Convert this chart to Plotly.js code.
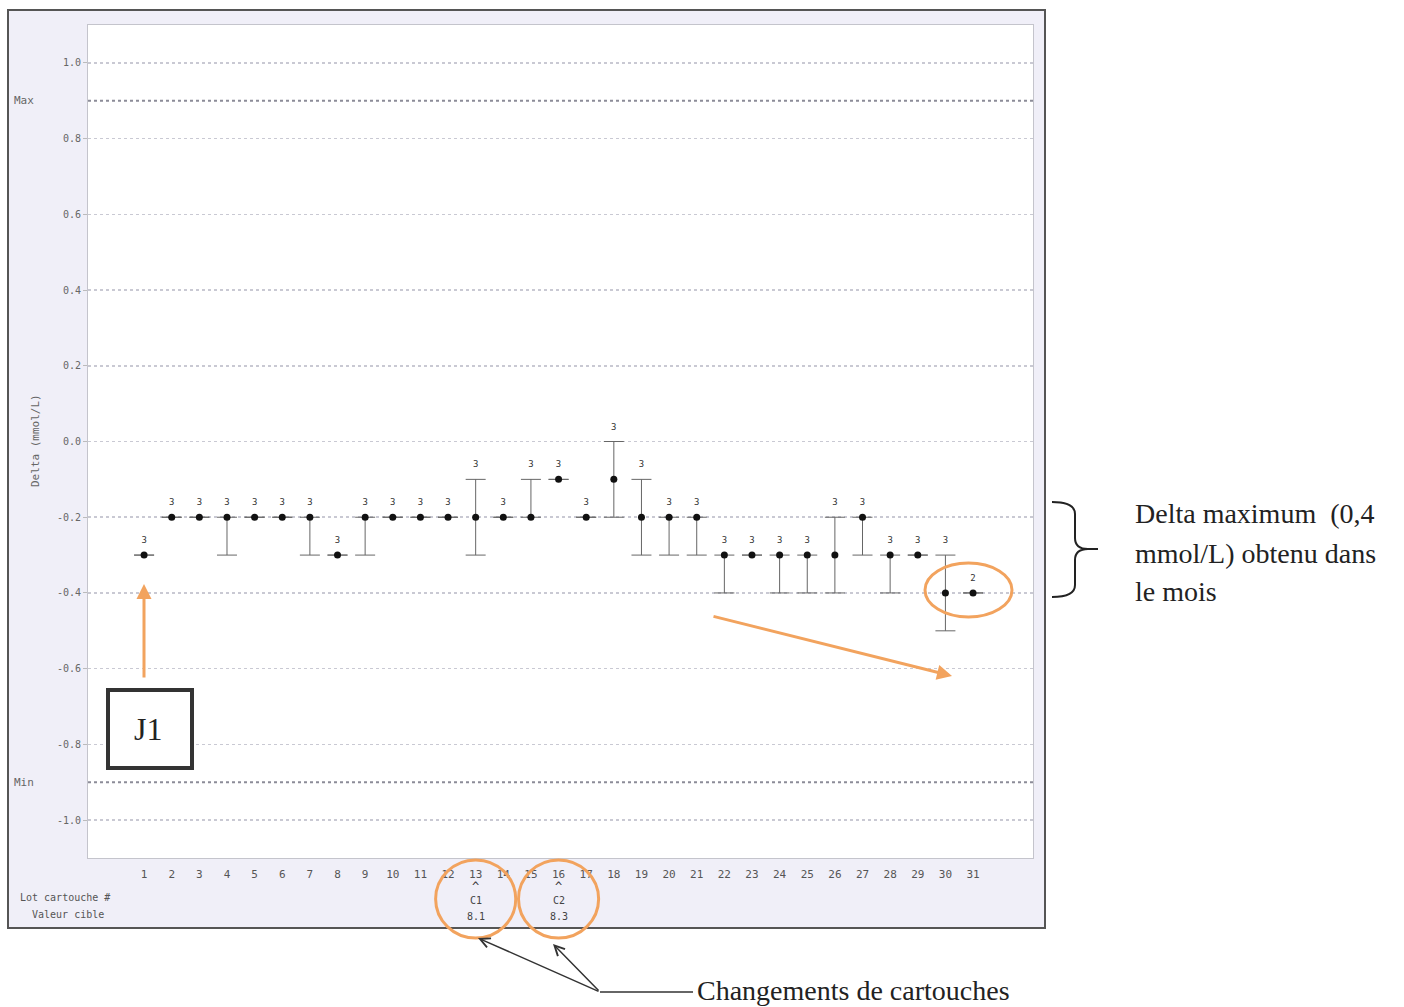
<!DOCTYPE html>
<html>
<head>
<meta charset="utf-8">
<script src="https://cdn.plot.ly/plotly-3.0.1.min.js"></script>
<style>html,body{margin:0;padding:0;background:#fff;}#chart{width:1404px;height:1007px;}</style>
</head>
<body>
<div id="chart"></div>
<script>
// ---- data ----
const days = [1,2,3,4,5,6,7,8,9,10,11,12,13,14,15,16,17,18,19,20,21,22,23,24,25,26,27,28,29,30,31];
const deltas = [-0.3,-0.2,-0.2,-0.2,-0.2,-0.2,-0.2,-0.3,-0.2,-0.2,-0.2,-0.2,-0.2,-0.2,-0.2,-0.1,-0.2,-0.1,-0.2,-0.2,-0.2,-0.3,-0.3,-0.3,-0.3,-0.3,-0.2,-0.3,-0.3,-0.4,-0.4];
const errPlus = [0,0,0,0,0,0,0,0,0,0,0,0,0.1,0,0.1,0,0,0.1,0.1,0,0,0,0,0,0,0.1,0,0,0,0.1,0];
const errMinus = [0,0,0,0.1,0,0,0.1,0,0.1,0,0,0,0.1,0,0,0,0,0.1,0.1,0.1,0.1,0.1,0,0.1,0.1,0.1,0.1,0.1,0,0.1,0];
const counts = ['3','3','3','3','3','3','3','3','3','3','3','3','3','3','3','3','3','3','3','3','3','3','3','3','3','3','3','3','3','3','2'];
const yTicks = [1.0,0.8,0.6,0.4,0.2,0.0,-0.2,-0.4,-0.6,-0.8,-1.0];
const limitValues = [0.9, -0.9];
const limitLabels = ['Max', 'Min'];
const cartridgeDays = [13, 16];
const cartridgeLots = ['C1', 'C2'];
const cartridgeTargets = ['8.1', '8.3'];

// ---- pixel helpers for decorations (plot area 88..1033 x 25..858) ----
const L = 88, R = 1033, T = 25, B = 858;
const px = x => (x - L) / (R - L);
const py = y => (B - y) / (B - T);

const orange = '#f2a35e';
const chartFont = 'DejaVu Sans Mono, monospace';
const serif = 'Liberation Serif, Times New Roman, serif';

const traces = [
  {
    type: 'scatter', mode: 'markers',
    x: days, y: deltas,
    marker: {color: '#111', size: 7},
    error_y: {type: 'data', symmetric: false, array: errPlus, arrayminus: errMinus,
              color: '#666', thickness: 1, width: 10},
    hoverinfo: 'x+y', showlegend: false
  },
  {
    type: 'scatter', mode: 'markers+text',
    x: days, y: deltas.map((v, i) => v + errPlus[i]),
    text: counts, textposition: 'top center',
    marker: {size: 14, opacity: 0},
    textfont: {family: chartFont, size: 9, color: '#333'},
    hoverinfo: 'skip', showlegend: false
  }
];

const shapes = [
  // outer panel
  {type: 'rect', xref: 'paper', yref: 'paper', layer: 'below',
   x0: px(8), x1: px(1045), y0: py(928), y1: py(10),
   fillcolor: '#f0eff8', line: {color: '#555', width: 2}},
  {type: 'rect', xref: 'paper', yref: 'paper', layer: 'below',
   x0: 0, x1: 1, y0: 0, y1: 1, fillcolor: '#ffffff', line: {width: 0}},
  // J1 box
  {type: 'rect', xref: 'paper', yref: 'paper',
   x0: px(108), x1: px(192), y0: py(768), y1: py(690),
   fillcolor: '#ffffff', line: {color: '#333', width: 4}},
  // orange ellipse around last points
  {type: 'circle', xref: 'paper', yref: 'paper',
   x0: px(925), x1: px(1012), y0: py(617), y1: py(563),
   line: {color: orange, width: 3}},
  // brace
  {type: 'path', xref: 'paper', yref: 'paper',
   path: 'M' + px(1052) + ',' + py(502) + ' Q' + px(1075) + ',' + py(502) + ' ' + px(1075) + ',' + py(514) +
         ' L' + px(1075) + ',' + py(538) + ' Q' + px(1075) + ',' + py(549) + ' ' + px(1088) + ',' + py(549) +
         ' L' + px(1098) + ',' + py(549) + ' M' + px(1088) + ',' + py(549) +
         ' Q' + px(1075) + ',' + py(549) + ' ' + px(1075) + ',' + py(560) +
         ' L' + px(1075) + ',' + py(585) + ' Q' + px(1075) + ',' + py(597) + ' ' + px(1052) + ',' + py(597),
   line: {color: '#222', width: 2}},
  // connector line for "Changements de cartouches"
  {type: 'line', xref: 'paper', yref: 'paper',
   x0: px(600), x1: px(693), y0: py(992), y1: py(992), line: {color: '#333', width: 1.5}}
];

// limit lines
limitValues.forEach(v => shapes.push({
  type: 'line', xref: 'paper', yref: 'y', x0: 0, x1: 1, y0: v, y1: v,
  line: {color: '#8c8c98', width: 2, dash: 'dot'}
}));
// orange circles around cartridge changes
cartridgeDays.forEach(d => shapes.push({
  type: 'circle', xref: 'x', yref: 'paper',
  x0: d - 1.45, x1: d + 1.45, y0: py(938), y1: py(860),
  line: {color: orange, width: 3}
}));

const ann = (o) => Object.assign({xanchor: 'center', yanchor: 'middle', showarrow: false}, o);

const annotations = [
  ann({xref: 'paper', yref: 'paper', x: px(35), y: py(441), text: 'Delta (mmol/L)', textangle: -90,
   font: {family: chartFont, size: 11, color: '#666'}}),
  ann({xref: 'paper', yref: 'paper', x: px(18), y: py(897), xanchor: 'left', text: 'Lot cartouche #',
   font: {family: chartFont, size: 10, color: '#555'}}),
  ann({xref: 'paper', yref: 'paper', x: px(30), y: py(914), xanchor: 'left', text: 'Valeur cible',
   font: {family: chartFont, size: 10, color: '#555'}}),
  ann({xref: 'paper', yref: 'paper', x: px(148), y: py(729), text: 'J1',
   font: {family: serif, size: 32, color: '#222'}}),
  // J1 arrow
  ann({xref: 'paper', yref: 'paper', x: px(144), y: py(584), ax: 0, ay: 95, text: '',
   showarrow: true, arrowhead: 2, arrowsize: 1, arrowwidth: 3, arrowcolor: orange}),
  // long orange arrow
  ann({xref: 'paper', yref: 'paper', x: px(952), y: py(676), ax: -240, ay: -60, text: '',
   showarrow: true, arrowhead: 2, arrowsize: 1, arrowwidth: 3, arrowcolor: orange}),
  // black arrows to cartridge circles
  ann({xref: 'paper', yref: 'paper', x: px(478), y: py(938), ax: 122, ay: 54, text: '',
   showarrow: true, arrowhead: 5, arrowsize: 1.3, arrowwidth: 1.5, arrowcolor: '#333'}),
  ann({xref: 'paper', yref: 'paper', x: px(553), y: py(944), ax: 47, ay: 48, text: '',
   showarrow: true, arrowhead: 5, arrowsize: 1.3, arrowwidth: 1.5, arrowcolor: '#333'}),
  ann({xref: 'paper', yref: 'paper', x: px(695), y: py(990), xanchor: 'left',
   text: 'Changements de cartouches', font: {family: serif, size: 28, color: '#222'}}),
  // right-side note
  ann({xref: 'paper', yref: 'paper', x: px(1133), y: py(513), xanchor: 'left',
   text: 'Delta maximum  (0,4', font: {family: serif, size: 28, color: '#222'}}),
  ann({xref: 'paper', yref: 'paper', x: px(1133), y: py(553), xanchor: 'left',
   text: 'mmol/L) obtenu dans', font: {family: serif, size: 28, color: '#222'}}),
  ann({xref: 'paper', yref: 'paper', x: px(1133), y: py(591), xanchor: 'left',
   text: 'le mois', font: {family: serif, size: 28, color: '#222'}})
];

limitValues.forEach((v, i) => annotations.push(ann({
  xref: 'paper', yref: 'y', x: px(12), y: v, xanchor: 'left',
  text: limitLabels[i], font: {family: chartFont, size: 11, color: '#666'}
})));
cartridgeDays.forEach((d, i) => {
  annotations.push(ann({xref: 'x', yref: 'paper', x: d, y: py(887), text: '^',
    font: {family: chartFont, size: 12, color: '#333'}}));
  annotations.push(ann({xref: 'x', yref: 'paper', x: d, y: py(900), text: cartridgeLots[i],
    font: {family: chartFont, size: 10, color: '#444'}}));
  annotations.push(ann({xref: 'x', yref: 'paper', x: d, y: py(916), text: cartridgeTargets[i],
    font: {family: chartFont, size: 10, color: '#444'}}));
});

const layout = {
  width: 1404, height: 1007,
  margin: {l: L, r: 1404 - R, t: T, b: 1007 - B},
  paper_bgcolor: '#ffffff', plot_bgcolor: '#ffffff',
  showlegend: false,
  xaxis: {
    range: [-1.03, 33.17], tickmode: 'array', tickvals: days, ticktext: days.map(String),
    showgrid: false, zeroline: false, ticks: '', showline: true, mirror: true,
    linecolor: '#c4c4cc', linewidth: 1, ticklabelstandoff: 6,
    tickfont: {family: chartFont, size: 11, color: '#555'}
  },
  yaxis: {
    range: [-1.1, 1.1], tickmode: 'array', tickvals: yTicks,
    ticktext: yTicks.map(v => v.toFixed(1)),
    showgrid: true, gridcolor: '#c9c9d3', gridwidth: 1.5, griddash: 'dot',
    zeroline: false, ticks: 'outside', ticklen: 4, tickcolor: '#bbb',
    showline: true, mirror: true, linecolor: '#c4c4cc', linewidth: 1,
    tickfont: {family: chartFont, size: 10, color: '#666'}
  },
  shapes: shapes,
  annotations: annotations
};

Plotly.newPlot('chart', traces, layout, {displayModeBar: false, staticPlot: true});
</script>
</body>
</html>
